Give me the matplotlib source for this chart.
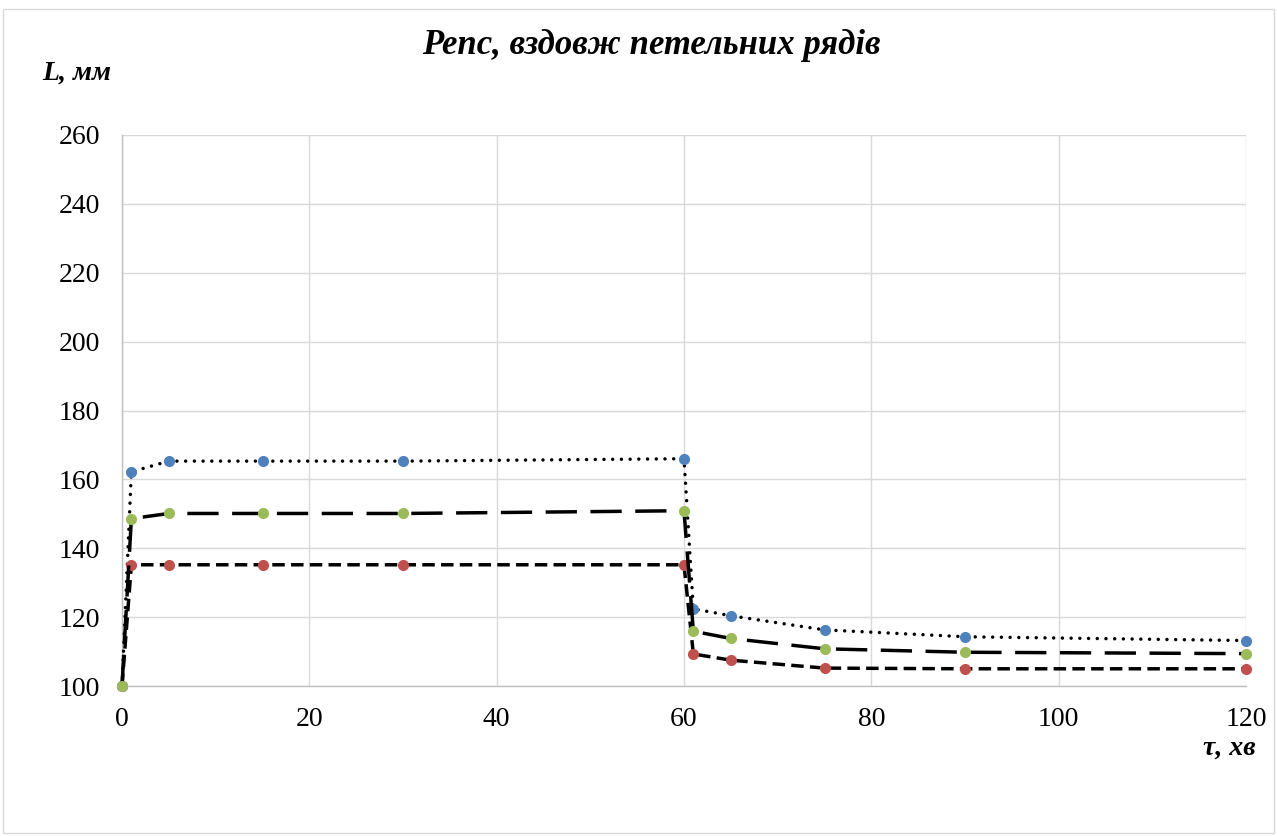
import matplotlib
matplotlib.use("Agg")
import matplotlib.pyplot as plt
from matplotlib.patches import Rectangle

# Data
time_min = [0, 1, 5, 15, 30, 60, 61, 65, 75, 90, 120]
series_blue = [100, 162.2, 165.3, 165.3, 165.3, 166.0, 122.4, 120.4, 116.3, 114.3, 113.2]
series_red = [100, 135.2, 135.2, 135.2, 135.2, 135.2, 109.3, 107.5, 105.2, 105.0, 105.0]
series_green = [100, 148.6, 150.1, 150.1, 150.1, 150.9, 115.9, 113.8, 110.8, 109.8, 109.4]
x_ticks = [0, 20, 40, 60, 80, 100, 120]
y_ticks = [100, 120, 140, 160, 180, 200, 220, 240, 260]
title = "Репс, вздовж петельних рядів"
ylabel = "L, мм"
xlabel = "τ, хв"

plt.rcParams['font.family'] = ['Liberation Serif', 'DejaVu Serif']

W, H = 1277, 836
fig = plt.figure(figsize=(W / 100, H / 100), dpi=100)
ax = fig.add_axes([122 / W, 1 - 686 / H, (1246 - 122) / W, (686 - 135) / H])

lw = 2.5
ms = 7
ax.plot(time_min, series_blue, color='black', lw=lw, dashes=(0.01, 2.5),
        dash_capstyle='round', marker='o', ms=ms, mfc='#4F81BD', mec='#4F81BD',
        zorder=3, clip_on=False)
ax.plot(time_min, series_red, color='black', lw=lw, dashes=(3.6, 1.8),
        marker='o', ms=ms, mfc='#C0504D', mec='#C0504D', zorder=3, clip_on=False)
ax.plot(time_min, series_green, color='black', lw=lw, dashes=(9, 3.9),
        marker='o', ms=ms, mfc='#9BBB59', mec='#9BBB59', zorder=3, clip_on=False)

ax.set_xlim(0, 120)
ax.set_ylim(100, 260)
ax.set_xticks(x_ticks)
ax.set_yticks(y_ticks)
ax.grid(True, color='#D9D9D9', lw=1)
ax.set_axisbelow(True)
for s in ['top', 'right']:
    ax.spines[s].set_visible(False)
for s in ['left', 'bottom']:
    ax.spines[s].set_color('#BFBFBF')
    ax.spines[s].set_linewidth(1)
ax.tick_params(length=0, labelsize=20, colors='black')
ax.tick_params(axis='y', pad=16)
ax.tick_params(axis='x', pad=15)

fig.text(651 / W, 1 - 45 / H, title, ha='center', va='center', fontsize=25,
         fontweight='bold', fontstyle='italic')
fig.text(42 / W, 1 - 73 / H, ylabel, ha='left', va='center', fontsize=20,
         fontweight='bold', fontstyle='italic')
fig.text(1229 / W, 1 - 748 / H, xlabel, ha='center', va='center', fontsize=20,
         fontweight='bold', fontstyle='italic')

fig.patches.append(Rectangle((3 / W, 3 / H), (W - 6) / W, (H - 12) / H,
                             transform=fig.transFigure, fill=False,
                             edgecolor='#D9D9D9', lw=1))

fig.savefig("out.png", dpi=100)
